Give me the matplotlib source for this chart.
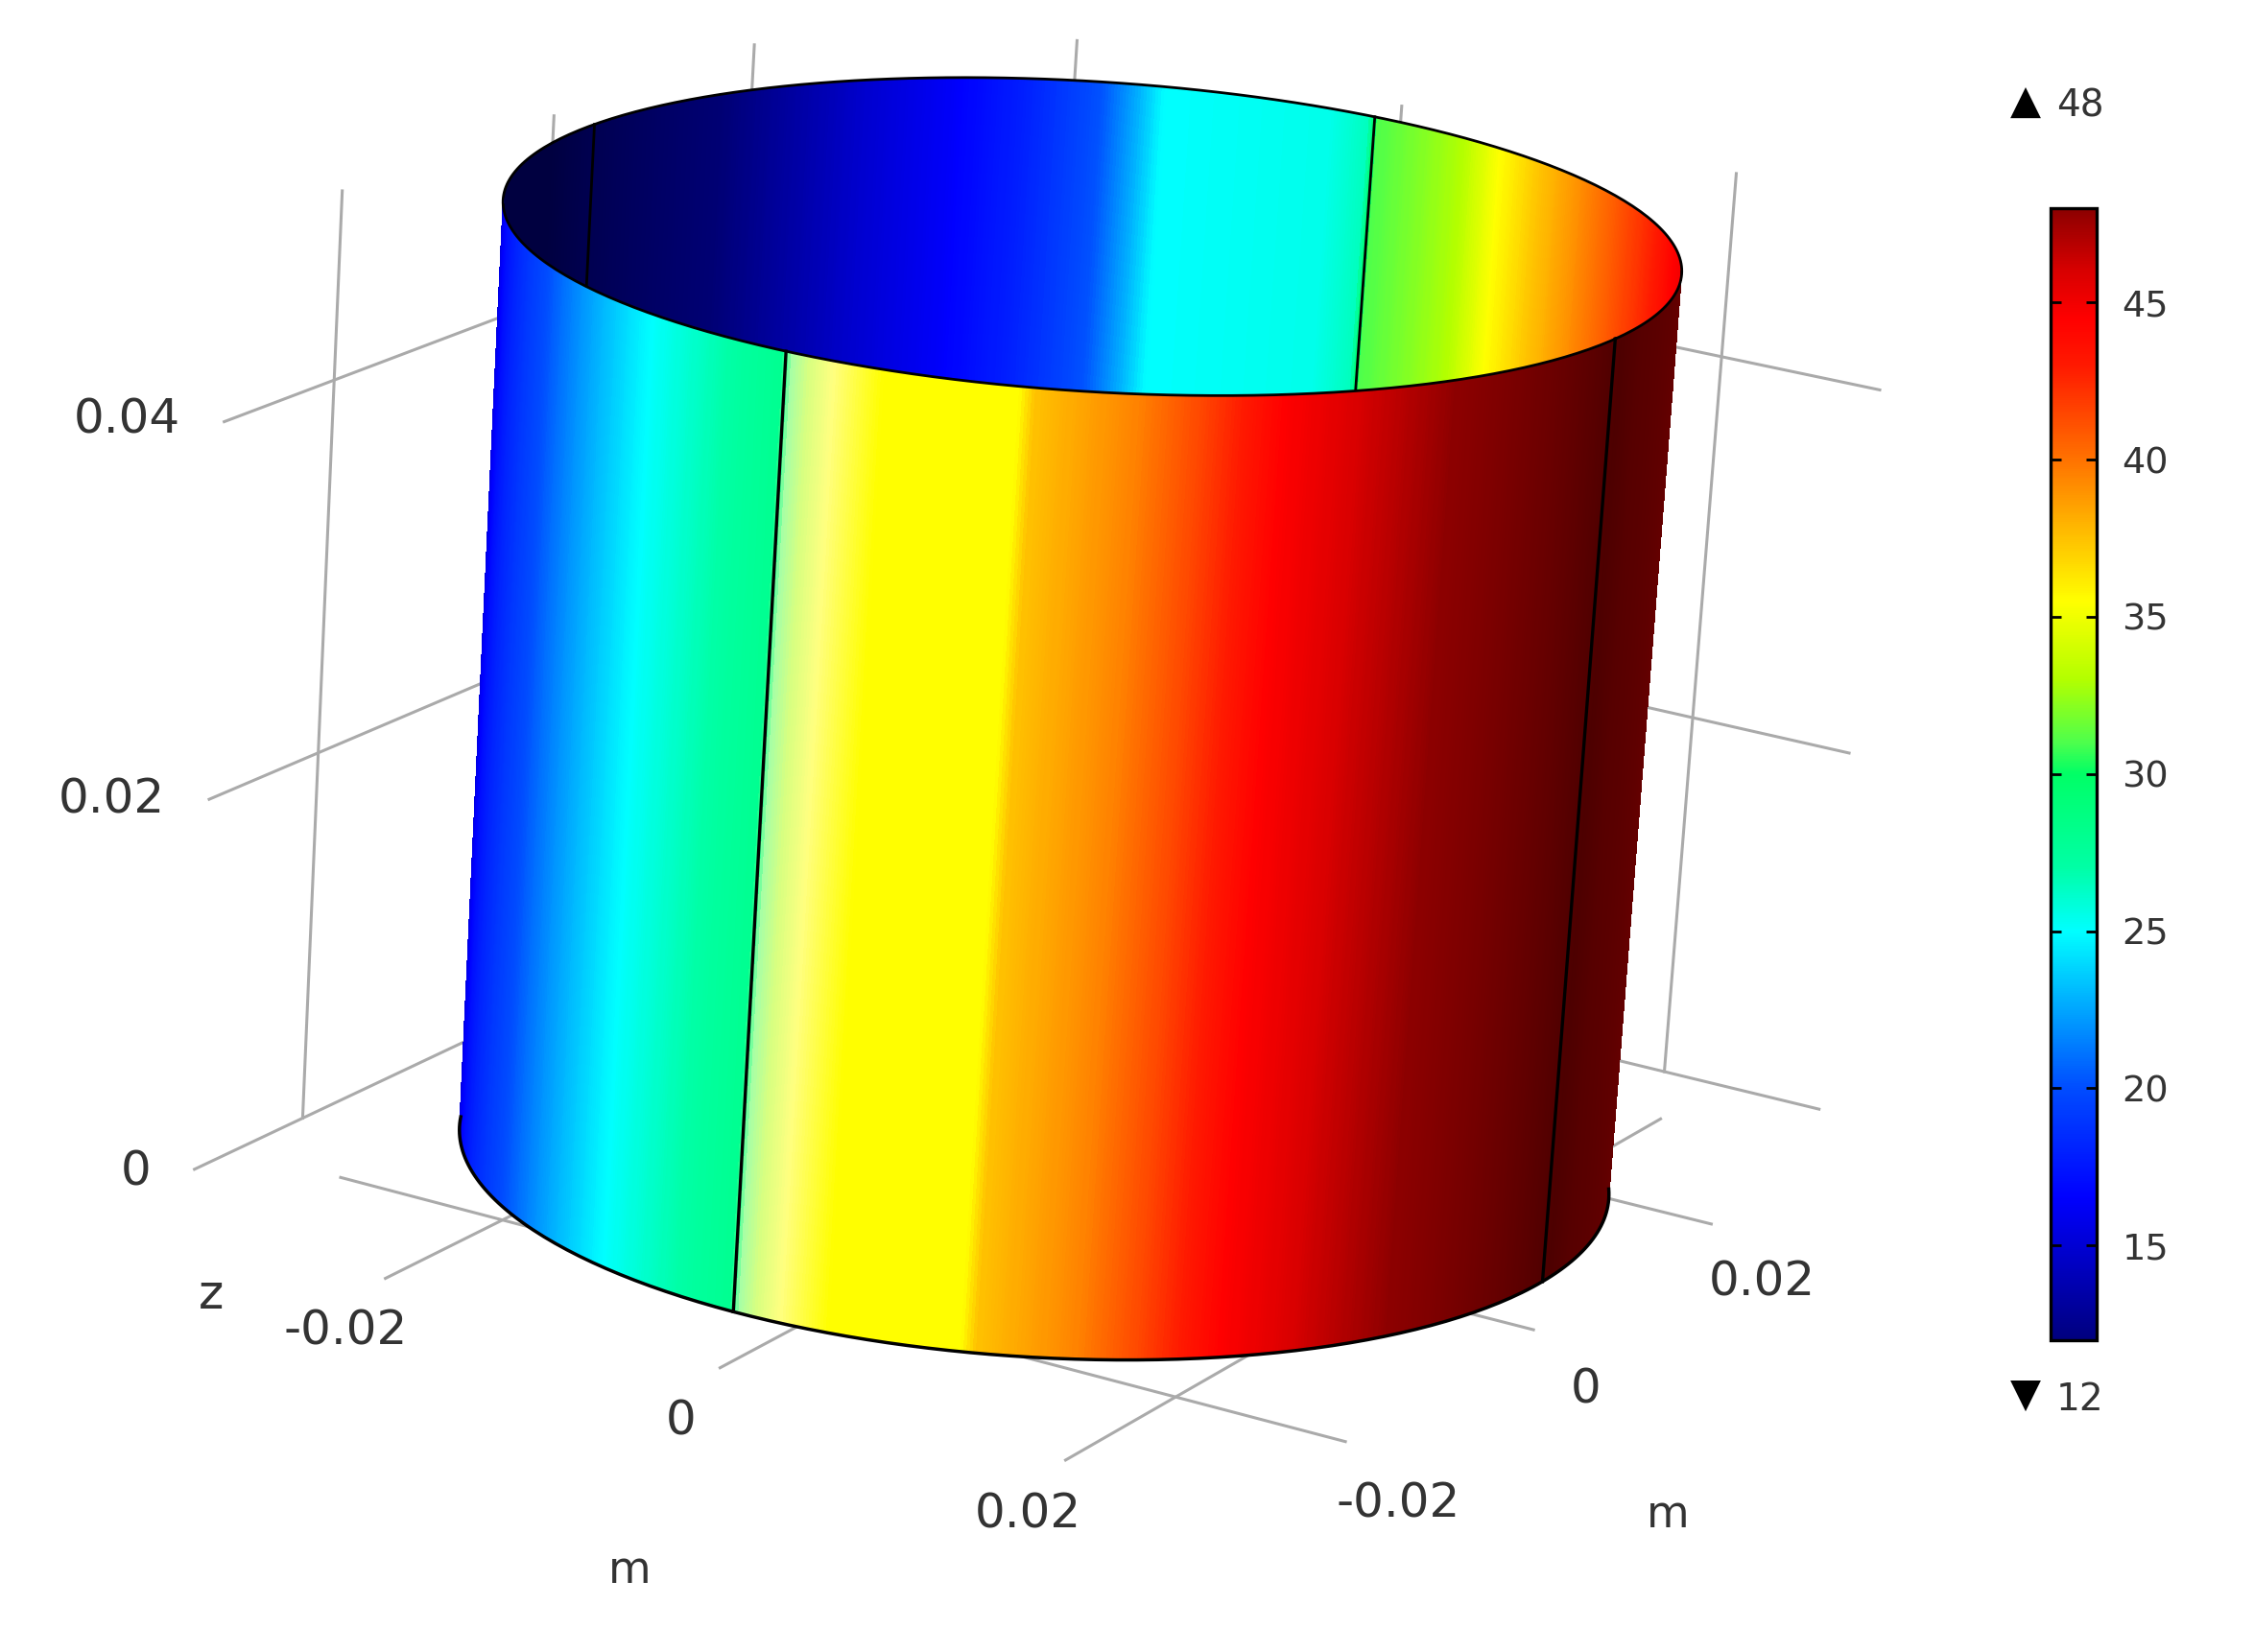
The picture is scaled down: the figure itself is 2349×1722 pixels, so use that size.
import numpy as np
import matplotlib
matplotlib.use("Agg")
import matplotlib.pyplot as plt
from matplotlib.cm import ScalarMappable
from matplotlib.colors import Normalize, LinearSegmentedColormap

# temperature, by angle around the cylinder (deg from +x)
theta_out = [-151, -138, -125, -106.5, -94, -90.5, -89.5, -85, -80, -67, -65.5, -56, -50, -42, -33, -23.5, -13, 1, 6, 29]
temp_out = [14.5, 17.5, 20, 25, 27.5, 28, 31, 35.5, 35.5, 35.5, 37.5, 39.5, 41.5, 44.5, 46.3, 48, 48, 48, 48, 48]
shade_th_out = [-151, -90.5, -89.5, -85, -80, -23.5, -13, 1, 6, 29]
shade_out = [1, 1, 1.5, 1.5, 1, 1, 0.8, 0.55, 0.62, 0.75]

theta_in = [-331, -324, -308.5, -300, -292, -286, -281, -270.5, -269.5, -265.3, -247.6, -245.2, -241.4, -233.6, -225.7, -217.6, -199, -171, -151]
temp_in = [45, 44.5, 41.5, 39.5, 37.5, 35.5, 33, 31, 26.5, 25.5, 25, 23, 20.3, 18, 16.3, 15, 12, 12, 12]
shade_th_in = [-217, -199, -171, -151]
shade_in = [1, 0.9, 0.5, 0.5]

radius = 0.03
height = 0.05
edge_out = [0, -90]
edge_in = [-180, -270]

x_ticks = [-0.02, 0, 0.02]
y_ticks = [-0.02, 0, 0.02]
z_ticks = [0, 0.02, 0.04]
xlo, xhi = -0.0325, 0.0293
ylo, yhi = -0.030, 0.033
floor_z = -0.0027
floor_xlo = -0.030
floor_xhi = 0.0297
floor_ylo = -0.031

cbar_ticks = [15, 20, 25, 30, 35, 40, 45]
t_min, t_max = 12, 48

# colour bar
cmap_vals = [12, 16.5, 20, 25, 27, 30, 31, 33, 35.5, 38, 40, 43, 44.5, 46, 48]
cmap_cols = [(0, 0, 0.5), (0, 0, 1), (0, 0.3, 1), (0, 1, 1), (0, 1, 0.65), (0, 1, 0.4), (0.3, 1, 0.3),
             (0.7, 1, 0), (1, 1, 0), (1, 0.7, 0), (1, 0.45, 0), (1, 0.1, 0), (1, 0, 0), (0.85, 0, 0), (0.55, 0, 0)]

grey = "#aaaaaa"
text_col = "#333333"
norm = Normalize(t_min, t_max)
cmap = LinearSegmentedColormap.from_list("rainbow_bar", list(zip(norm(cmap_vals), cmap_cols)), N=512)

fig = plt.figure(figsize=(23.49, 17.22), dpi=100)
ax = fig.add_axes([0.0954, 0.0647, 0.733, 1.0], projection="3d")
ax.set_proj_type("persp", focal_length=1.3)
ax.set_xlim(-0.035, 0.035)
ax.set_ylim(-0.035, 0.035)
ax.set_zlim(0, 0.05)
ax.set_box_aspect((0.07, 0.07, 0.05), zoom=1.265)
ax.view_init(elev=17.5, azim=-61, roll=-3.6)
ax.set_axis_off()
ax.computed_zorder = False


def wall(th, temp, sh_th, sh, zo):
    t = np.linspace(min(th), max(th), 600)
    vals = np.interp(t, th, temp)
    s = np.interp(t, sh_th, sh)
    cols = cmap(norm(vals))
    # above 1 the shade blends to white (the pale strip), below 1 it darkens
    dark = np.minimum(s, 1)[:, None]
    pale = np.maximum(s - 1, 0)[:, None]
    cols[:, :3] = cols[:, :3] * dark + (1 - cols[:, :3]) * pale
    X = radius * np.cos(np.radians(t))[None, :] * np.ones((2, 1))
    Y = radius * np.sin(np.radians(t))[None, :] * np.ones((2, 1))
    Z = np.array([[0.0], [height]]) * np.ones((2, t.size))
    ax.plot_surface(X, Y, Z, facecolors=cols[:-1][None, :, :], rstride=1, cstride=1, shade=False,
                    linewidth=0, antialiased=False, zorder=zo)


def gridline(xs, ys, zs):
    ax.plot(xs, ys, zs, color=grey, lw=2.2, zorder=1, clip_on=False)


# grid on the floor and the two back walls
for z in z_ticks:
    gridline([xlo, xlo], [ylo, yhi], [z, z])
    gridline([xlo, xhi], [yhi, yhi], [z, z])
for y in y_ticks:
    gridline([xlo, xlo], [y, y], [0, height])
    gridline([floor_xlo, floor_xhi], [y, y], [floor_z, floor_z])
for x in x_ticks:
    gridline([x, x], [yhi, yhi], [0, height])
    gridline([x, x], [floor_ylo, yhi], [floor_z, floor_z])

wall(theta_in, temp_in, shade_th_in, shade_in, 2)
for a in edge_in:
    ax.plot(radius * np.cos(np.radians([a, a])), radius * np.sin(np.radians([a, a])), [0, height],
            color="black", lw=2, zorder=3)
wall(theta_out, temp_out, shade_th_out, shade_out, 4)
for a in edge_out:
    ax.plot(radius * np.cos(np.radians([a, a])), radius * np.sin(np.radians([a, a])), [0, height],
            color="black", lw=2.4, zorder=5)

# rims
ring = np.radians(np.linspace(0, 360, 361))
ax.plot(radius * np.cos(ring), radius * np.sin(ring), height, color="black", lw=2, zorder=5)
front = np.radians(np.linspace(-151, 29, 181))
ax.plot(radius * np.cos(front), radius * np.sin(front), 0, color="black", lw=2.5, zorder=5)

# tick labels
for x in x_ticks:
    ax.text(x, floor_ylo - 0.0035, floor_z - 0.0018, f"{x:g}", fontsize=36, color=text_col,
            ha="center", va="center", zorder=6)
for y in y_ticks:
    ax.text(floor_xhi + 0.0032, y, floor_z - 0.0025, f"{y:g}", fontsize=36, color=text_col,
            ha="center", va="center", zorder=6)
for z in z_ticks:
    ax.text(xlo, ylo - 0.004, z + 0.001, f"{z:g}", fontsize=36, color=text_col, ha="right", va="center", zorder=6)

ax.text(xlo, ylo + 0.002, -0.0075, "z", fontsize=36, color=text_col, ha="center", va="center", zorder=6)
ax.text(0, floor_ylo - 0.0077, floor_z - 0.0085, "m", fontsize=33, color=text_col, ha="center", va="center", zorder=6)
ax.text(floor_xhi + 0.0084, 0, floor_z - 0.0081, "m", fontsize=33, color=text_col, ha="center", va="center", zorder=6)

# colour bar
cax = fig.add_axes([0.9098, 0.189, 0.0204, 0.685])
cb = fig.colorbar(ScalarMappable(norm=norm, cmap=cmap), cax=cax, ticks=cbar_ticks)
cb.outline.set_linewidth(2.4)
cax.tick_params(axis="y", direction="in", left=True, right=True, length=8, width=2,
                labelsize=27.5, labelcolor=text_col, pad=19)

fig.text(0.8985, 0.938, "\u25b2", fontsize=30, color="black", ha="center", va="center")
fig.text(0.9228, 0.936, f"{t_max}", fontsize=28, color=text_col, ha="center", va="center")
fig.text(0.8985, 0.155, "\u25bc", fontsize=30, color="black", ha="center", va="center")
fig.text(0.9228, 0.153, f"{t_min}", fontsize=28, color=text_col, ha="center", va="center")

fig.savefig("out.png", dpi=100, facecolor="white")
